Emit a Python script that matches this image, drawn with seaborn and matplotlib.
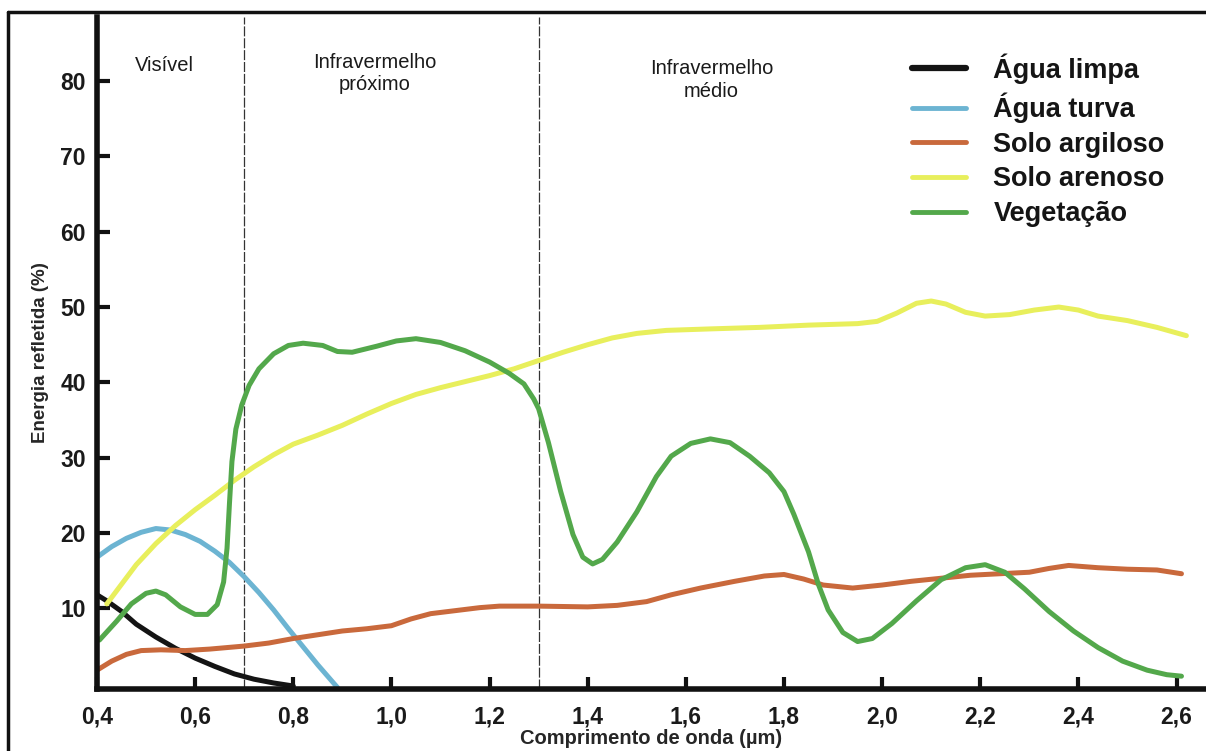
import numpy as np
import pandas as pd
import matplotlib
matplotlib.use("Agg")
import matplotlib.pyplot as plt
from matplotlib.lines import Line2D
import seaborn as sns

# ---- data ----
agua_limpa_x = [0.40, 0.42, 0.45, 0.48, 0.52, 0.56, 0.60, 0.64, 0.68, 0.72, 0.76, 0.80]
agua_limpa_y = [11.8, 11.0, 9.6, 7.9, 6.2, 4.7, 3.4, 2.3, 1.3, 0.6, 0.1, -0.3]

agua_turva_x = [0.40, 0.43, 0.46, 0.49, 0.52, 0.55, 0.58, 0.61, 0.64, 0.67, 0.70, 0.73,
                0.76, 0.79, 0.82, 0.85, 0.89]
agua_turva_y = [16.8, 18.2, 19.3, 20.1, 20.6, 20.4, 19.8, 18.9, 17.6, 16.1, 14.2, 12.1,
                9.8, 7.3, 4.9, 2.5, -0.5]

solo_argiloso_x = [0.40, 0.43, 0.46, 0.49, 0.53, 0.58, 0.63, 0.70, 0.75, 0.80, 0.85, 0.90,
                   0.95, 1.00, 1.04, 1.08, 1.13, 1.18, 1.22, 1.30, 1.40, 1.46, 1.52, 1.57,
                   1.63, 1.70, 1.76, 1.80, 1.84, 1.88, 1.94, 2.00, 2.06, 2.12, 2.18, 2.24,
                   2.30, 2.34, 2.38, 2.44, 2.50, 2.56, 2.61]
solo_argiloso_y = [1.8, 3.0, 3.9, 4.4, 4.5, 4.4, 4.6, 5.0, 5.4, 6.0, 6.5, 7.0,
                   7.3, 7.7, 8.6, 9.3, 9.7, 10.1, 10.3, 10.3, 10.2, 10.4, 10.9, 11.8,
                   12.7, 13.6, 14.3, 14.5, 13.9, 13.1, 12.7, 13.1, 13.6, 14.0, 14.4, 14.6,
                   14.8, 15.3, 15.7, 15.4, 15.2, 15.1, 14.6]

solo_arenoso_x = [0.42, 0.45, 0.48, 0.52, 0.56, 0.60, 0.64, 0.68, 0.72, 0.76, 0.80, 0.85,
                  0.90, 0.95, 1.00, 1.05, 1.10, 1.15, 1.20, 1.25, 1.30, 1.35, 1.40, 1.45,
                  1.50, 1.56, 1.65, 1.75, 1.85, 1.95, 1.99, 2.03, 2.07, 2.10, 2.13, 2.17,
                  2.21, 2.26, 2.31, 2.36, 2.40, 2.44, 2.50, 2.56, 2.62]
solo_arenoso_y = [10.6, 13.2, 15.8, 18.6, 21.0, 23.1, 25.0, 27.0, 28.8, 30.4, 31.8, 33.0,
                  34.3, 35.8, 37.2, 38.4, 39.3, 40.1, 40.9, 41.8, 42.9, 44.0, 45.0, 45.9,
                  46.5, 46.9, 47.1, 47.3, 47.6, 47.8, 48.1, 49.2, 50.5, 50.8, 50.4, 49.3,
                  48.8, 49.0, 49.6, 50.0, 49.6, 48.8, 48.2, 47.3, 46.2]

vegetacao_x = [0.405, 0.44, 0.47, 0.50, 0.52, 0.54, 0.57, 0.60, 0.625, 0.645, 0.658, 0.665,
               0.670, 0.675, 0.683, 0.695, 0.71, 0.73, 0.76, 0.79, 0.82, 0.86, 0.89, 0.92,
               0.97, 1.01, 1.05, 1.10, 1.15, 1.20, 1.24, 1.27, 1.29, 1.30, 1.32, 1.345,
               1.37, 1.39, 1.41, 1.43, 1.46, 1.50, 1.54, 1.57, 1.61, 1.65, 1.69, 1.73,
               1.77, 1.80, 1.82, 1.85, 1.87, 1.89, 1.92, 1.95, 1.98, 2.02, 2.07, 2.12,
               2.17, 2.21, 2.25, 2.29, 2.34, 2.39, 2.44, 2.49, 2.54, 2.58, 2.61]
vegetacao_y = [5.8, 8.3, 10.6, 12.0, 12.3, 11.8, 10.2, 9.2, 9.2, 10.5, 13.5, 18.0,
               24.0, 29.5, 33.8, 37.0, 39.6, 41.8, 43.8, 44.9, 45.2, 44.9, 44.1, 44.0,
               44.8, 45.5, 45.8, 45.3, 44.2, 42.7, 41.2, 39.8, 37.8, 36.5, 32.0, 25.5,
               19.8, 16.8, 15.9, 16.5, 18.8, 22.8, 27.5, 30.2, 31.9, 32.5, 32.0, 30.2,
               28.0, 25.5, 22.5, 17.5, 13.2, 9.8, 6.8, 5.6, 6.0, 8.0, 11.0, 13.8,
               15.4, 15.8, 14.8, 12.6, 9.6, 7.0, 4.8, 3.0, 1.8, 1.2, 1.0]

series_names = ["Água limpa", "Água turva", "Solo argiloso", "Solo arenoso", "Vegetação"]
series_colors = ["#141414", "#6cb4d2", "#c9693c", "#e8ef5c", "#53a84b"]

x_ticks = [0.4, 0.6, 0.8, 1.0, 1.2, 1.4, 1.6, 1.8, 2.0, 2.2, 2.4, 2.6]
x_tick_labels = ["0,4", "0,6", "0,8", "1,0", "1,2", "1,4", "1,6", "1,8", "2,0", "2,2", "2,4", "2,6"]
y_ticks = [10, 20, 30, 40, 50, 60, 70, 80]
region_bounds = [0.7, 1.3]
region_labels = ["Visível", "Infravermelho\npróximo", "Infravermelho\nmédio"]
region_label_x = [0.538, 0.966, 1.652]
region_label_y = [82.1, 81.0, 80.1]

# ---- build long table ----
xs = [agua_limpa_x, agua_turva_x, solo_argiloso_x, solo_arenoso_x, vegetacao_x]
ys = [agua_limpa_y, agua_turva_y, solo_argiloso_y, solo_arenoso_y, vegetacao_y]
frames = []
for name, x, y in zip(series_names, xs, ys):
    frames.append(pd.DataFrame({"x": x, "y": y, "serie": name}))
df = pd.concat(frames, ignore_index=True)

sns.set_style("white")
plt.rcParams["font.family"] = ["Liberation Sans", "DejaVu Sans"]

fig = plt.figure(figsize=(12.06, 7.51), dpi=100)
ax = fig.add_axes([97 / 1206, 62 / 751, 1 - 97 / 1206, (689 - 17) / 751])

palette = dict(zip(series_names, series_colors))
sns.lineplot(data=df, x="x", y="y", hue="serie", hue_order=series_names,
             palette=palette, sort=False, estimator=None,
             linewidth=3.6, ax=ax, legend=False)

ax.set_xlim(0.4, 2.66)
ax.set_ylim(-0.7, 88.5)

for xb in region_bounds:
    ax.axvline(xb, color="#333333", linewidth=0.9, linestyle=(0, (8, 1.5)), zorder=1)

for lx, ly, lab in zip(region_label_x, region_label_y, region_labels):
    ax.text(lx, ly, lab, ha="center", va="center", fontsize=14.5, color="#1a1a1a",
            linespacing=1.25)

ax.set_xticks(x_ticks)
ax.set_xticklabels(x_tick_labels)
ax.set_yticks(y_ticks)
ax.tick_params(axis="both", direction="in", length=9, width=3, color="#111111",
               labelsize=16.5, bottom=True, left=True)
ax.tick_params(axis="x", pad=12)
ax.tick_params(axis="y", pad=8)
for lab in ax.get_xticklabels() + ax.get_yticklabels():
    lab.set_fontweight("bold")
    lab.set_color("#1a1a1a")

for side in ["top", "right"]:
    ax.spines[side].set_visible(False)
for side in ["left", "bottom"]:
    ax.spines[side].set_linewidth(4)
    ax.spines[side].set_color("#111111")

ax.set_xlabel("Comprimento de onda (µm)", fontsize=14.5, fontweight="bold", labelpad=0)
ax.set_ylabel("Energia refletida (%)", fontsize=13.5, fontweight="bold", labelpad=8)

handles = [Line2D([0], [0], color=c, linewidth=4.5 if i == 0 else 3.5)
           for i, c in enumerate(series_colors)]
leg = ax.legend(handles, series_names, loc="upper left", bbox_to_anchor=(0.713, 0.982),
                frameon=False, fontsize=19.5, handlelength=2.0, handletextpad=1.0,
                labelspacing=0.32)
for t in leg.get_texts():
    t.set_fontweight("bold")
    t.set_color("#151515")

# figure frame (top and left border lines)
fig.add_artist(Line2D([8 / 1206, 8 / 1206], [0, 1 - 12 / 751], transform=fig.transFigure,
                      color="#111111", linewidth=2.5))
fig.add_artist(Line2D([8 / 1206, 1], [1 - 12 / 751, 1 - 12 / 751], transform=fig.transFigure,
                      color="#111111", linewidth=2.5))

fig.savefig("out.png", dpi=100)
